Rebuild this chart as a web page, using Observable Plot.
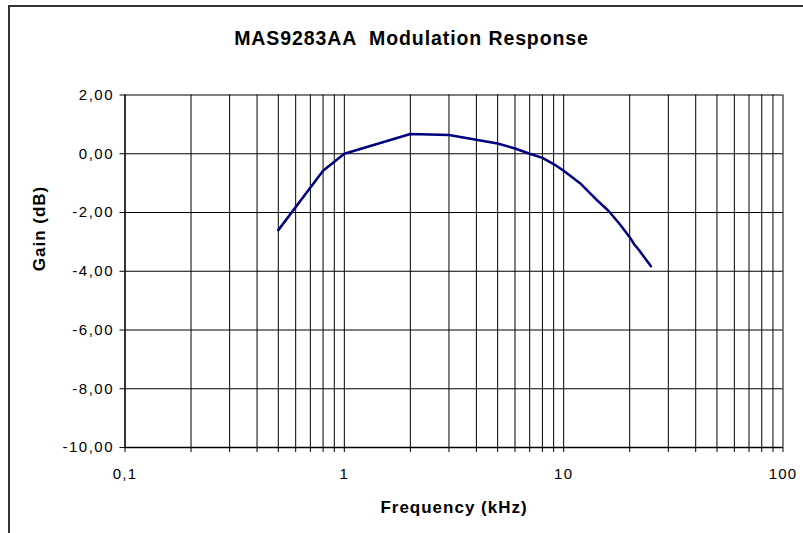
<!DOCTYPE html>
<html>
<head>
<meta charset="utf-8">
<script src="https://cdn.jsdelivr.net/npm/d3@7"></script>
<script src="https://cdn.jsdelivr.net/npm/@observablehq/plot@0.6"></script>
<style>
  html, body { margin: 0; padding: 0; background: #fff; }
  #wrap { position: relative; width: 803px; height: 533px; overflow: hidden; }
  #border { position: absolute; left: 8px; top: 5px; width: 900px; height: 700px;
            border-left: 2px solid #333; border-top: 2px solid #333; pointer-events: none; }
  svg g[aria-label="y-axis tick label"] text { letter-spacing: 1.5px; }
  svg g[aria-label="x-axis tick label"] text { letter-spacing: 1.2px; }
  svg .ttl text { letter-spacing: 0.9px; }
  svg .axt text { letter-spacing: 1px; }
</style>
</head>
<body>
<div id="wrap"><div id="border"></div></div>
<script>
// Data
const frequency = [0.5, 0.8, 1, 2, 3, 5, 6, 7, 8, 9, 10, 12, 14, 16, 18, 20, 21, 22, 25]; // kHz
const gain = [-2.6, -0.58, 0.0, 0.67, 0.64, 0.35, 0.18, 0.0, -0.14, -0.35, -0.58, -1.03, -1.54, -1.94, -2.39, -2.84, -3.09, -3.27, -3.83]; // dB

// Axis ticks
const xGridTicks = [0.1, 0.2, 0.3, 0.4, 0.5, 0.6, 0.7, 0.8, 0.9,
                    1, 2, 3, 4, 5, 6, 7, 8, 9,
                    10, 20, 30, 40, 50, 60, 70, 80, 90, 100];
const xMajorTicks = [0.1, 1, 10, 100];
const xMajorLabels = ["0,1", "1", "10", "100"];
const yTicks = [-10, -8, -6, -4, -2, 0, 2];

const titleText = "MAS9283AA  Modulation Response";
const xTitle = "Frequency (kHz)";
const yTitle = "Gain (dB)";

const data = frequency.map((f, i) => ({f, g: gain[i]}));
const xLabel = d => {
  const k = xMajorTicks.findIndex(v => Math.abs(v - d) < 1e-9);
  return k >= 0 ? xMajorLabels[k] : "";
};
const yLabel = d => d.toFixed(2).replace(".", ",");

const font = "Liberation Sans, Arial, Helvetica, sans-serif";

const chart = Plot.plot({
  width: 803,
  height: 533,
  marginLeft: 124.5,
  marginRight: 20.5,
  marginTop: 94.5,
  marginBottom: 86,
  style: {fontFamily: font, fontSize: "15px", color: "#000", background: "transparent"},
  x: {type: "log", domain: [0.1, 100]},
  y: {domain: [-10, 2]},
  marks: [
    Plot.gridX(xGridTicks, {stroke: "#000", strokeOpacity: 1, strokeWidth: 1}),
    Plot.gridY(yTicks, {stroke: "#000", strokeOpacity: 1, strokeWidth: 1}),
    Plot.ruleX([0.1], {stroke: "#222", strokeWidth: 1.6}),
    Plot.ruleY([-10], {stroke: "#000", strokeWidth: 1.4}),
    Plot.axisX(xGridTicks, {tickSize: 5, tickPadding: 16, tickFormat: xLabel, fontSize: 15, label: null, stroke: "#000"}),
    Plot.axisY(yTicks, {tickSize: 5, tickPadding: 6, tickFormat: yLabel, fontSize: 15, label: null, stroke: "#000"}),
    Plot.line(data, {x: "f", y: "g", stroke: "#000080", strokeWidth: 2.5}),
    Plot.text([titleText], {frameAnchor: "top", dx: -42.5, dy: -50.5, text: d => d, fontSize: 19.5, fontWeight: "bold", lineAnchor: "bottom", className: "ttl"}),
    Plot.text([xTitle], {frameAnchor: "bottom", dy: 65.5, text: d => d, fontSize: 17, fontWeight: "bold", lineAnchor: "bottom", className: "axt"}),
    Plot.text([yTitle], {frameAnchor: "left", dx: -80, rotate: -90, text: d => d, fontSize: 17, fontWeight: "bold", lineAnchor: "bottom", className: "axt"})
  ]
});
document.getElementById("wrap").prepend(chart);
</script>
</body>
</html>
